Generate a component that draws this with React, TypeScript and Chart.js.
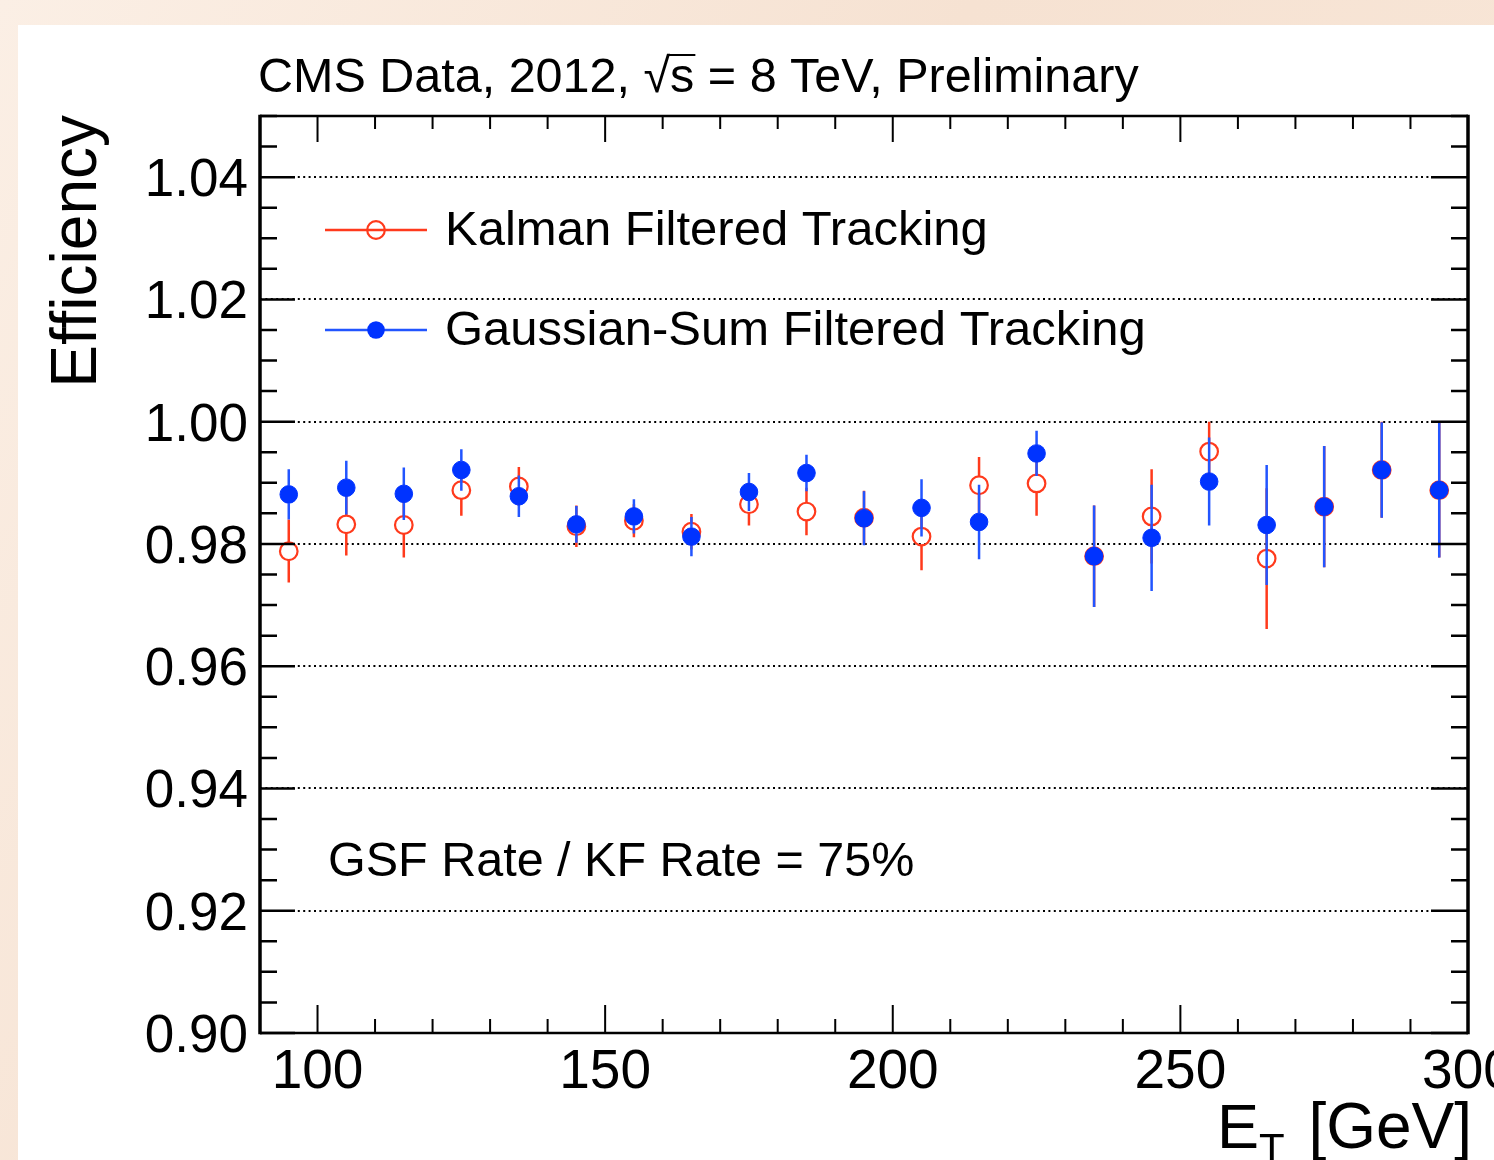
import React, { useEffect, useRef } from 'react';
import { Chart, registerables } from 'chart.js';

Chart.register(...registerables);

// ---------- data ----------
const etBins = [95, 105, 115, 125, 135, 145, 155, 165, 175, 185, 195, 205, 215, 225, 235, 245, 255, 265, 275, 285, 295];

const kfEff = [0.9788, 0.9832, 0.9831, 0.9888, 0.9894, 0.9829, 0.9838, 0.982, 0.9865, 0.9853, 0.9843, 0.9812, 0.9896, 0.9899, 0.978, 0.9845, 0.9951, 0.9776, 0.9861, 0.9921, 0.9888];
const kfErrLow = [0.0051, 0.0051, 0.0053, 0.0042, 0.0032, 0.0034, 0.0027, 0.0029, 0.0035, 0.0039, 0.0044, 0.0055, 0.0046, 0.0053, 0.0083, 0.0077, 0.006, 0.0115, 0.0099, 0.0078, 0.011];
const kfErrHigh = [0.0052, 0.0051, 0.0053, 0.0042, 0.0032, 0.0034, 0.0027, 0.0029, 0.0035, 0.0039, 0.0044, 0.0055, 0.0046, 0.0053, 0.0083, 0.0077, 0.0049, 0.0115, 0.0099, 0.0079, 0.0112];

const gsfEff = [0.9881, 0.9892, 0.9882, 0.9921, 0.9878, 0.9832, 0.9845, 0.9812, 0.9885, 0.9916, 0.9842, 0.9859, 0.9836, 0.9948, 0.978, 0.981, 0.9902, 0.9831, 0.9861, 0.9921, 0.9888];
const gsfErrLow = [0.0041, 0.0044, 0.0043, 0.0034, 0.0034, 0.003, 0.0028, 0.0032, 0.0031, 0.003, 0.0044, 0.0047, 0.0061, 0.0037, 0.0083, 0.0087, 0.0072, 0.0098, 0.0099, 0.0078, 0.011];
const gsfErrHigh = [0.0041, 0.0044, 0.0043, 0.0034, 0.0034, 0.003, 0.0028, 0.0032, 0.0031, 0.003, 0.0044, 0.0047, 0.0061, 0.0037, 0.0083, 0.0087, 0.0072, 0.0098, 0.0099, 0.0078, 0.0112];

const seriesLabels = ['Kalman Filtered Tracking', 'Gaussian-Sum Filtered Tracking'];

const yMajorTicks = [0.9, 0.92, 0.94, 0.96, 0.98, 1.0, 1.02, 1.04];
const yTickLabels = ['0.90', '0.92', '0.94', '0.96', '0.98', '1.00', '1.02', '1.04'];
const xMajorTicks = [100, 150, 200, 250, 300];
const xTickLabels = ['100', '150', '200', '250', '300'];

const titlePrefix = 'CMS Data, 2012, √';
const titleSqrtArg = 's';
const titleSuffix = ' = 8 TeV, Preliminary';
const yAxisTitle = 'Efficiency';
const annotationText = 'GSF Rate / KF Rate = 75%';

// ---------- style ----------
const RED = '#ff3a1c';
const BLUE_MARK = '#0033ff';
const BLUE_BAR = '#2255ff';
const FONT = '"Liberation Sans", Arial, Helvetica, sans-serif';
const X_MIN = 90, X_MAX = 300, Y_MIN = 0.9, Y_MAX = 1.05;

const rootPlugin = {
  id: 'rootStyle',
  beforeDatasetsDraw(chart: any) {
    const { ctx, chartArea: a, scales } = chart;
    const ys = scales.y;
    ctx.save();
    ctx.strokeStyle = '#000';
    ctx.lineWidth = 2;
    ctx.setLineDash([2, 3.4]);
    yMajorTicks.forEach((v) => {
      if (v <= Y_MIN + 1e-9) return;
      const y = Math.round(ys.getPixelForValue(v));
      ctx.beginPath();
      ctx.moveTo(a.left, y);
      ctx.lineTo(a.right, y);
      ctx.stroke();
    });
    ctx.restore();
  },
  beforeDatasetDraw(chart: any, args: any) {
    const { ctx, scales } = chart;
    const ds: any = chart.data.datasets[args.index];
    const xs = scales.x, ys = scales.y;
    const r = ds.pointRadius;
    ctx.save();
    ctx.strokeStyle = ds.barColor;
    ctx.lineWidth = 2.5;
    ds.data.forEach((p: any, i: number) => {
      const x = xs.getPixelForValue(p.x);
      const yc = ys.getPixelForValue(p.y);
      const yt = ys.getPixelForValue(p.y + ds.errHigh[i]);
      const yb = ys.getPixelForValue(p.y - ds.errLow[i]);
      ctx.beginPath();
      if (yc - r > yt) { ctx.moveTo(x, yt); ctx.lineTo(x, yc - r); }
      if (yc + r < yb) { ctx.moveTo(x, yc + r); ctx.lineTo(x, yb); }
      ctx.stroke();
    });
    ctx.restore();
  },
  afterDraw(chart: any) {
    const { ctx, chartArea: a, scales } = chart;
    const xs = scales.x, ys = scales.y;
    ctx.save();
    ctx.setLineDash([]);
    ctx.strokeStyle = '#000';
    // ticks
    ctx.lineWidth = 2;
    for (let v = X_MIN; v <= X_MAX + 1e-6; v += 10) {
      const x = xs.getPixelForValue(v);
      const major = Math.abs(v % 50) < 1e-6;
      ctx.beginPath();
      ctx.moveTo(x, a.bottom);
      ctx.lineTo(x, a.bottom - (major ? 28 : 14));
      ctx.moveTo(x, a.top);
      ctx.lineTo(x, a.top + (major ? 26 : 13));
      ctx.stroke();
    }
    ctx.lineWidth = 2.5;
    for (let k = 0; k <= 30; k++) {
      const v = Y_MIN + k * 0.005;
      const y = ys.getPixelForValue(v);
      const major = k % 4 === 0;
      ctx.beginPath();
      ctx.moveTo(a.left, y);
      ctx.lineTo(a.left + (major ? 35 : 17), y);
      ctx.moveTo(a.right, y);
      ctx.lineTo(a.right - (major ? 37 : 17), y);
      ctx.stroke();
    }
    // frame
    ctx.lineWidth = 2.5;
    ctx.beginPath();
    ctx.moveTo(a.left, a.top);
    ctx.lineTo(a.right, a.top);
    ctx.moveTo(a.left, a.bottom);
    ctx.lineTo(a.right, a.bottom);
    ctx.stroke();
    ctx.lineWidth = 3.5;
    ctx.beginPath();
    ctx.moveTo(a.left, a.top - 1.2);
    ctx.lineTo(a.left, a.bottom + 1.2);
    ctx.moveTo(a.right, a.top - 1.2);
    ctx.lineTo(a.right, a.bottom + 1.2);
    ctx.stroke();

    ctx.fillStyle = '#000';
    // y tick labels
    ctx.font = `53px ${FONT}`;
    ctx.textAlign = 'right';
    ctx.textBaseline = 'alphabetic';
    yMajorTicks.forEach((v, i) => {
      ctx.fillText(yTickLabels[i], a.left - 12, ys.getPixelForValue(v) + 19);
    });
    // x tick labels
    ctx.font = `55px ${FONT}`;
    ctx.textAlign = 'center';
    xMajorTicks.forEach((v, i) => {
      ctx.fillText(xTickLabels[i], xs.getPixelForValue(v), a.bottom + 55);
    });
    // y axis title
    ctx.save();
    ctx.font = `64px ${FONT}`;
    ctx.translate(96, a.top - 1);
    ctx.rotate(-Math.PI / 2);
    ctx.textAlign = 'right';
    ctx.fillText(yAxisTitle, 0, 0);
    ctx.restore();
    // x axis title  E_T [GeV]
    ctx.textAlign = 'left';
    ctx.font = `63px ${FONT}`;
    ctx.fillText('E', 1217, 1148);
    ctx.font = `42px ${FONT}`;
    ctx.fillText('T', 1259, 1163);
    ctx.font = `64px ${FONT}`;
    ctx.textAlign = 'right';
    ctx.fillText('[GeV]', 1472, 1148);
    // title
    ctx.textAlign = 'left';
    ctx.font = `48.5px ${FONT}`;
    const tx = 258;
    const ty = 92;
    ctx.fillText(titlePrefix + titleSqrtArg + titleSuffix, tx, ty);
    const wPre = ctx.measureText(titlePrefix).width;
    const wS = ctx.measureText(titleSqrtArg).width;
    ctx.lineWidth = 2;
    ctx.beginPath();
    ctx.moveTo(tx + wPre - 2, ty - 37);
    ctx.lineTo(tx + wPre + wS + 1, ty - 37);
    ctx.stroke();
    // annotation
    ctx.font = `48.5px ${FONT}`;
    ctx.fillText(annotationText, 328, 876);
    // legend
    const legendRows = [230, 330];
    chart.data.datasets.forEach((ds: any, i: number) => {
      const ly = legendRows[i];
      ctx.strokeStyle = ds.barColor;
      ctx.lineWidth = 2.5;
      ctx.beginPath();
      ctx.moveTo(325, ly);
      ctx.lineTo(427, ly);
      ctx.stroke();
      ctx.beginPath();
      ctx.arc(376, ly, ds.pointRadius, 0, Math.PI * 2);
      if (ds.hollow) {
        ctx.fillStyle = '#fff';
        ctx.fill();
        ctx.strokeStyle = ds.pointBorderColor;
        ctx.lineWidth = ds.pointBorderWidth;
        ctx.stroke();
        ctx.beginPath();
        ctx.strokeStyle = ds.barColor;
        ctx.lineWidth = 2.5;
        ctx.moveTo(376 - ds.pointRadius, ly);
        ctx.lineTo(376 + ds.pointRadius, ly);
        ctx.stroke();
      } else {
        ctx.fillStyle = ds.pointBackgroundColor;
        ctx.fill();
      }
      ctx.fillStyle = '#000';
      ctx.font = `49px ${FONT}`;
      ctx.textAlign = 'left';
      ctx.fillText(ds.label, 445, ly + 15);
    });
    ctx.restore();
  },
};

export default function App() {
  const ref = useRef<HTMLCanvasElement | null>(null);

  useEffect(() => {
    document.body.style.margin = '0';
    if (!ref.current) return;
    const chart = new Chart(ref.current, {
      type: 'scatter',
      data: {
        datasets: [
          {
            label: seriesLabels[0],
            data: etBins.map((x, i) => ({ x, y: kfEff[i] })),
            errLow: kfErrLow,
            errHigh: kfErrHigh,
            barColor: RED,
            hollow: true,
            pointStyle: 'circle',
            pointRadius: 8.8,
            pointBorderWidth: 2.2,
            pointBorderColor: RED,
            pointBackgroundColor: 'rgba(0,0,0,0)',
            order: 2,
          } as any,
          {
            label: seriesLabels[1],
            data: etBins.map((x, i) => ({ x, y: gsfEff[i] })),
            errLow: gsfErrLow,
            errHigh: gsfErrHigh,
            barColor: BLUE_BAR,
            hollow: false,
            pointStyle: 'circle',
            pointRadius: 8.8,
            pointBorderWidth: 1,
            pointBorderColor: BLUE_MARK,
            pointBackgroundColor: BLUE_MARK,
            order: 1,
          } as any,
        ],
      },
      options: {
        responsive: false,
        animation: false,
        events: [],
        layout: { padding: { left: 260, top: 116, right: 26, bottom: 127 } },
        scales: {
          x: { type: 'linear', min: X_MIN, max: X_MAX, display: false },
          y: { type: 'linear', min: Y_MIN, max: Y_MAX, display: false },
        },
        plugins: { legend: { display: false }, tooltip: { enabled: false }, title: { display: false } },
      },
      plugins: [rootPlugin],
    });
    return () => chart.destroy();
  }, []);

  return (
    <div style={{ position: 'relative', width: 1494, height: 1160, overflow: 'hidden', background: 'linear-gradient(120deg, #fbefe5 0%, #f6e2d2 45%, #f9e8da 100%)' }}>
      <div style={{ position: 'absolute', left: 18, top: 25, right: 0, bottom: 0, background: '#ffffff' }} />
      <canvas ref={ref} width={1494} height={1160} style={{ position: 'absolute', left: 0, top: 0, width: 1494, height: 1160 }} />
    </div>
  );
}
